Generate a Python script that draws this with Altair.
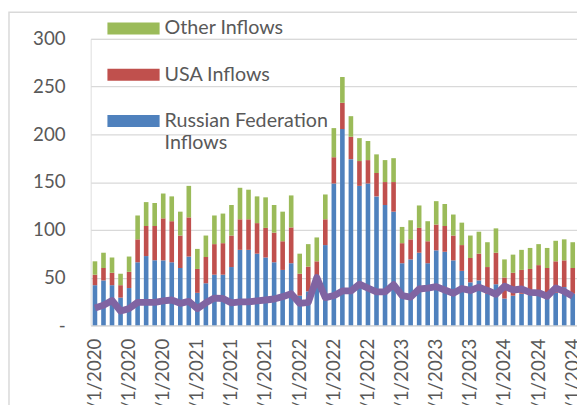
import altair as alt
import pandas as pd

months = [f"{m}/1/{y}" for y in range(2020, 2025) for m in range(1, 13)][:57]
tick_months = months[::4]

russia = [42, 47, 42, 29, 39, 66, 72.5, 68, 68, 66, 60, 72,
          34, 44, 53, 53, 61, 79, 79, 75, 71, 66, 58, 65,
          31, 35.5, 48, 84, 148.5, 205.5, 174, 146, 148.5, 135, 126, 119,
          65, 69, 76, 65, 78.5, 77, 68, 57, 45, 47, 33, 43,
          28, 31, 33, 32, 32, 29, 34, 40, 33]
usa = [11, 13, 13, 13, 17, 24, 31.5, 36, 44, 43, 34, 41,
       25, 27.5, 32, 33, 33, 32, 32, 32, 31, 31, 30, 37.5,
       23, 26, 19, 27, 27.5, 27.5, 23.5, 26, 24.5, 24.5, 24, 31,
       21, 21, 26, 23, 27, 27, 26, 27, 25.5, 28, 28, 33,
       22, 24, 25, 27, 31, 31, 33, 28, 27]
other = [14, 16, 16, 12, 16, 25, 25, 24, 26, 26, 25, 33,
         21, 22.5, 30, 31, 32, 33, 31, 28, 32, 29, 31, 33.5,
         21, 23.5, 25, 26, 30.5, 27, 21.5, 24, 20, 19.5, 23, 25,
         17, 20, 23.5, 21, 24.5, 23, 22, 23.5, 23.5, 23, 26, 25.5,
         19, 19, 21, 22, 22, 21, 21.5, 22, 27]
line_vals = [18, 21, 26, 15, 17.5, 24, 24, 24, 25.5, 26.5, 23, 25,
             17.5, 23.5, 28.5, 28, 23.5, 24.5, 24.5, 25.5, 26.5, 27.5, 30, 33,
             23, 24, 50, 29, 31, 36, 36, 43, 39, 35, 35, 42.5,
             31, 29.5, 38, 39, 40.5, 37, 33.5, 38.5, 36.5, 40, 36.5, 32.5,
             41, 37, 38, 34.5, 34, 30.5, 39, 35.5, 30.5]

series_names = ["Other Inflows", "USA Inflows", "Russian Federation Inflows"]
series_colors = ["#9BBB59", "#C0504D", "#4F81BD"]

rows = []
for i, m in enumerate(months):
    rows.append({"month": m, "series": "Russian Federation Inflows", "value": russia[i], "ord": 0})
    rows.append({"month": m, "series": "USA Inflows", "value": usa[i], "ord": 1})
    rows.append({"month": m, "series": "Other Inflows", "value": other[i], "ord": 2})
bars_df = pd.DataFrame(rows)
line_df = pd.DataFrame({"month": months, "value": line_vals})

FONT = "Lato"
TXT = "#595959"

x_enc = alt.X("month:N", sort=months,
              scale=alt.Scale(domain=months, paddingInner=0.46, paddingOuter=0.23),
              axis=alt.Axis(values=tick_months, labelAngle=270, labelFontSize=19,
                            labelFont=FONT, labelColor=TXT, labelPadding=13,
                            ticks=False, grid=False, domainColor="#D9D9D9",
                            domainWidth=1.5, title=None, labelOverlap=False,
                            labelBound=False))
y_scale = alt.Scale(domain=[0, 300], nice=False)

bars = alt.Chart(bars_df).mark_bar().encode(
    x=x_enc,
    y=alt.Y("value:Q", stack="zero", scale=y_scale,
            axis=alt.Axis(values=[0, 50, 100, 150, 200, 250, 300],
                          labelExpr="datum.value == 0 ? '-\u00a0\u00a0\u00a0\u00a0\u00a0\u00a0' : datum.label",
                          labelFontSize=19, labelFont=FONT, labelColor=TXT,
                          labelPadding=26, ticks=False, domain=False,
                          gridColor="#D9D9D9", gridWidth=1.3, title=None)),
    color=alt.Color("series:N",
                    scale=alt.Scale(domain=series_names, range=series_colors),
                    legend=alt.Legend(
                        orient="none", legendX=17, legendY=-37, title=None,
                        direction="vertical", padding=0,
                        symbolType="M-1,-0.2264L1,-0.2264L1,0.2264L-1,0.2264Z",
                        symbolSize=2809, symbolStrokeWidth=0, symbolOpacity=1,
                        labelFont=FONT, labelFontSize=20, labelColor=TXT,
                        labelOffset=5, rowPadding=10, labelLimit=400,
                        labelExpr="datum.label == 'Russian Federation Inflows' ? ['Russian Federation', 'Inflows'] : datum.label")),
    order=alt.Order("ord:Q"),
)

line = alt.Chart(line_df).mark_line(color="#8064A2", strokeWidth=7,
                                    strokeJoin="round").encode(
    x=alt.X("month:N", sort=months),
    y=alt.Y("value:Q", scale=y_scale),
)

frame = alt.Chart(pd.DataFrame({"a": [0]})).mark_rect(
    fillOpacity=0, stroke="#D9D9D9", strokeWidth=1.5).encode(
    x=alt.value(-83), x2=alt.value(700), y=alt.value(-27), y2=alt.value(600))

chart = alt.layer(frame, bars, line).properties(
    width=494, height=291,
    autosize=alt.AutoSizeParams(type="none"),
    padding={"left": 84, "top": 28, "right": 0, "bottom": 100},
).configure_view(stroke=None).configure(background="white")

chart.save("out.html", embed_options={"renderer": "svg", "actions": False})
